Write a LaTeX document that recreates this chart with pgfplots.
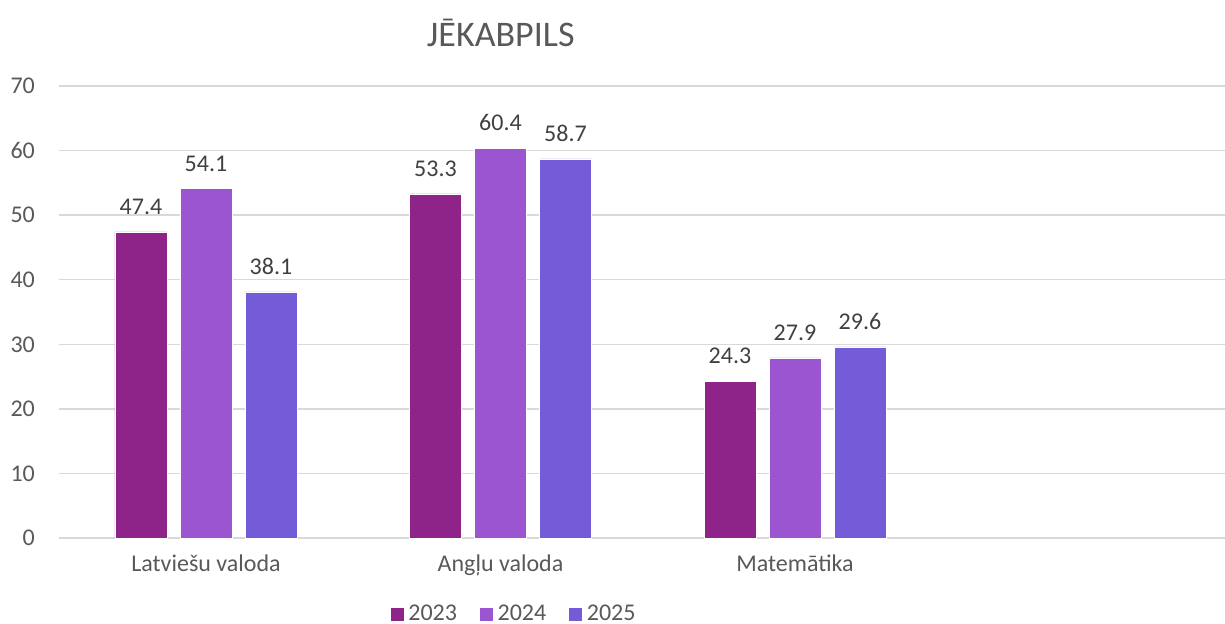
\documentclass[border=0pt]{standalone}
\usepackage{fontspec}
\setmainfont{Carlito}
\usepackage{pgfplots}
\pgfplotsset{compat=1.18}

\definecolor{c23}{HTML}{8E2489}
\definecolor{c24}{HTML}{9B55D0}
\definecolor{c25}{HTML}{745CD8}
\definecolor{gridc}{HTML}{D9D9D9}
\definecolor{txt}{HTML}{595959}
\definecolor{lbl}{HTML}{404040}

\begin{document}
\begin{tikzpicture}
\useasboundingbox (-29.375pt,-42.5pt) rectangle (583.125pt,269pt);
\begin{axis}[
  at={(0,0)}, anchor=south west,
  scale only axis, width=589pt, height=226pt,
  ybar=6.5pt, bar width=26pt,
  xmin=-0.5, xmax=3.5, ymin=0, ymax=70,
  xtick={0,1,2}, xticklabels={Latviešu valoda,Angļu valoda,Matemātika},
  ytick={0,10,...,70},
  axis line style={draw=none},
  ymajorgrids, grid style={gridc, line width=0.75pt},
  major tick length=0pt,
  /pgf/number format/assume math mode=true,
  tick label style={font=\fontsize{12}{14}\selectfont, text=txt},
  yticklabel style={xshift=-8.4pt},
  xticklabel style={yshift=-5pt},
  nodes near coords,
  every node near coord/.append style={font=\fontsize{12}{14}\selectfont, text=lbl, yshift=5pt,
    /pgf/number format/fixed, /pgf/number format/precision=1, /pgf/number format/fixed zerofill},
  legend columns=3,
  legend style={draw=none, fill=none, inner sep=0pt, at={(0.387,-0.168)}, anchor=center,
    font=\fontsize{12}{14}\selectfont, text=txt,
    /tikz/every even column/.append style={column sep=9pt},
    nodes={inner xsep=2pt, inner ysep=0pt}},
  legend image code/.code={\fill[#1] (0pt,-3.5pt) rectangle (7pt,3.5pt);},
]
\addplot[fill=c23, draw=white, line width=0.3pt] coordinates {(0,47.4) (1,53.3) (2,24.3)};
\addplot[fill=c24, draw=white, line width=0.3pt] coordinates {(0,54.1) (1,60.4) (2,27.9)};
\addplot[fill=c25, draw=white, line width=0.3pt] coordinates {(0,38.1) (1,58.7) (2,29.6)};
\legend{2023,2024,2025}
\end{axis}
\node[font=\fontsize{18}{22}\selectfont, text=txt] at (221pt,252.5pt) {JĒKABPILS};
\end{tikzpicture}
\end{document}
